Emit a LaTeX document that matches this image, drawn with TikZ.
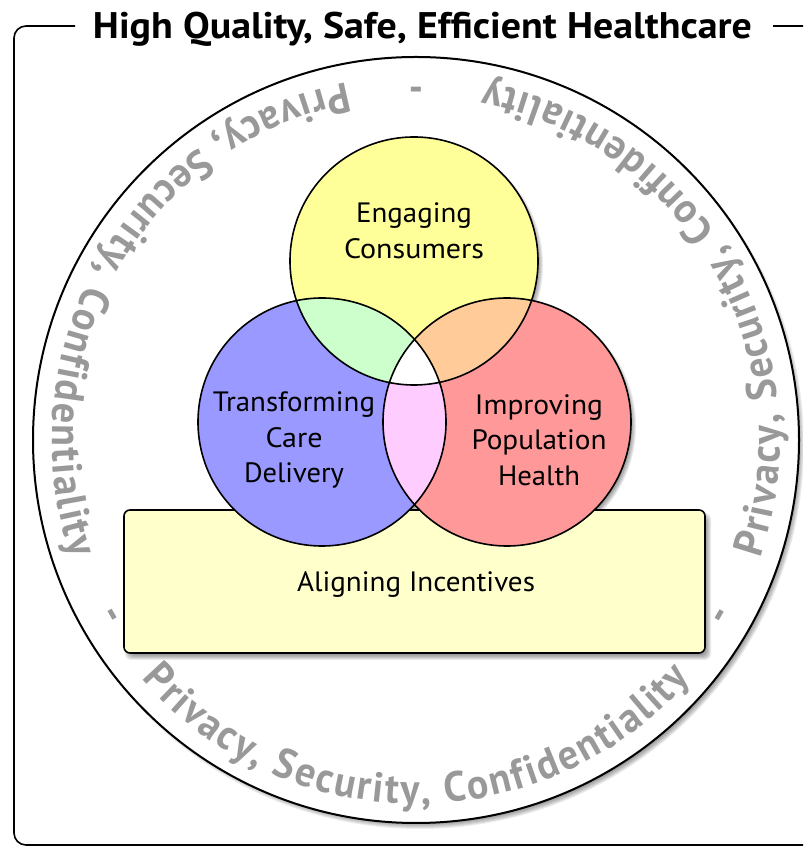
\documentclass[tikz,border=0pt]{standalone}
\usepackage{fontspec}
\setmainfont{PT Sans}
\newfontfamily\ringfont[FakeStretch=0.95]{PT Sans Bold}
\newfontfamily\titlefont{PT Sans Bold}
\usetikzlibrary{decorations.text,calc}
\definecolor{cyel}{RGB}{255,255,153}
\definecolor{cblue}{RGB}{153,153,255}
\definecolor{cred}{RGB}{255,153,153}
\definecolor{cgreen}{RGB}{204,255,204}
\definecolor{corange}{RGB}{255,204,153}
\definecolor{cpink}{RGB}{255,204,255}
\definecolor{crect}{RGB}{255,255,204}
\definecolor{ringgray}{RGB}{153,153,153}
\newcommand\fitw[2]{\resizebox{#1}{\height}{#2}}
\tikzset{
  circ/.style={circle, draw=black, line width=1.6pt, minimum size=248pt, inner sep=0pt},
  lbl/.style={font=\fontsize{28}{35.5}\selectfont, align=center, inner sep=0pt},
  ringtxt/.style={font=\ringfont\fontsize{42}{42}\selectfont, text=ringgray, inner sep=0pt},
}
\begin{document}
\begin{tikzpicture}[x=1pt,y=1pt]
\useasboundingbox (0,0) rectangle (803,848);
\clip (0,0) rectangle (803,848);
% outer frame
\draw[line width=1.6pt, rounded corners=12pt] (75,822) -- (14,822) -- (14,3) -- (840,3) -- (840,822) -- (773,822);
\node[font=\titlefont\fontsize{37}{37}\selectfont, anchor=base, inner sep=0pt] (title) at (422.5,809) {\fitw{659pt}{High Quality, Safe, Efficient Healthcare}};
% big circle
\coordinate (C) at (416,408);
\foreach \k in {0,...,7} \fill[black,opacity=0.07] ($(C)+(4,-5)$) circle ({377+\k});
\filldraw[fill=white, line width=2pt] (C) circle (383);
% ring text
\foreach \a in {270,30,150} {
  \path[decorate, decoration={text along path, text color=ringgray,
     text={|\ringfont\fontsize{42}{42}\selectfont|Privacy, Security, Confidentiality},
     text align={fit to path}}]
     ($(C)+(\a-49:364)$) arc[start angle=\a-49, end angle=\a+49, radius=364];
}
\foreach \a/\n in {90/da,210/db,330/dc}
  \node[ringtxt, rotate=\a+90] (\n) at ($(C)+(\a:355)$) {-};
% circle centres
\coordinate (Yc) at (414,587);
\coordinate (Bc) at (322,426);
\coordinate (Rc) at (507,426);
% circle shadows
\foreach \c in {Yc,Bc,Rc} \foreach \k in {0,...,5} \fill[black,opacity=0.08] ($(\c)+(4,-4)$) circle ({120+\k});
% rectangle shadow
\foreach \k in {0,...,5} \fill[black,opacity=0.08,rounded corners=6pt] (127+3-\k,190+3-\k) rectangle (709-3+\k,333-3+\k);
\node[draw=black, fill=crect, line width=1.6pt, rounded corners=6pt, minimum width=581pt, minimum height=143pt, inner sep=0pt] (rect) at (414.5,266.5) {};
% circle fills
\fill[cyel] (Yc) circle (124);
\fill[cblue] (Bc) circle (124);
\fill[cred] (Rc) circle (124);
\begin{scope}
  \clip (Bc) circle (124);
  \fill[cpink] (Rc) circle (124);
\end{scope}
\begin{scope}
  \clip (Yc) circle (124);
  \fill[cgreen] (Bc) circle (124);
  \fill[corange] (Rc) circle (124);
  \clip (Bc) circle (124);
  \fill[white] (Rc) circle (124);
\end{scope}
% circle outlines
\node[circ] (eng) at (Yc) {};
\node[circ] (tra) at (Bc) {};
\node[circ] (imp) at (Rc) {};
% labels
\node[lbl] (engl) at (414,617) {\fitw{116pt}{Engaging}\\\fitw{140pt}{Consumers}};
\node[lbl] (tral) at (294,408) {\fitw{162pt}{Transforming}\\\fitw{57pt}{Care}\\\fitw{100pt}{Delivery}};
\node[lbl] (impl) at (539,408) {\fitw{128pt}{Improving}\\\fitw{135pt}{Population}\\\fitw{82pt}{Health}};
\node[font=\fontsize{28}{28}\selectfont, anchor=base, inner sep=0pt] (ail) at (416,256) {\fitw{238pt}{Aligning Incentives}};
\end{tikzpicture}
\end{document}
